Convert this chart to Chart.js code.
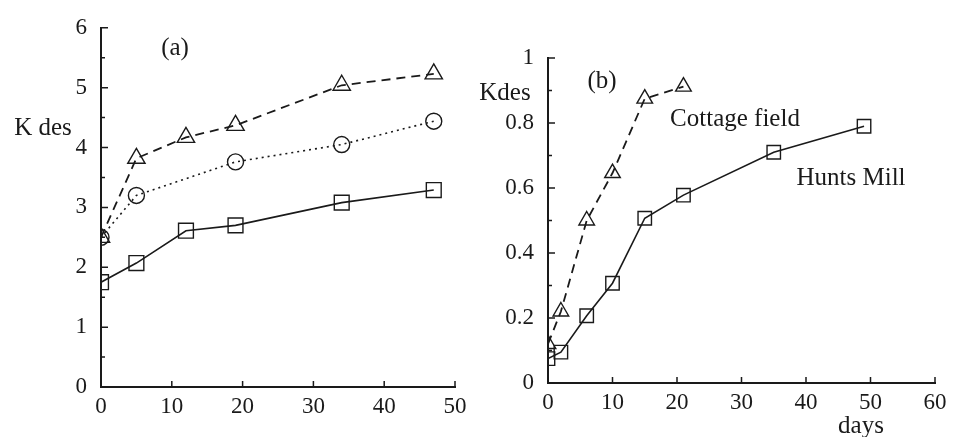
<!DOCTYPE html>
<html>
<head>
<meta charset="utf-8">
<script src="https://cdn.jsdelivr.net/npm/chart.js@4.4.1/dist/chart.umd.min.js"></script>
<style>
  html, body { margin: 0; padding: 0; background: #fff; }
  #wrap { position: relative; width: 955px; height: 437px; overflow: hidden; }
  .panel { position: absolute; top: 0; height: 437px; }
  .note { position: absolute; font-family: "Liberation Serif", "DejaVu Serif", serif; font-size: 25px;
          color: #1a1a1a; white-space: nowrap; transform: translate(-50%, -50%); line-height: 1; }
</style>
</head>
<body>
<div id="wrap">
  <div class="panel" style="left:0;width:480px"><canvas id="chartA"></canvas></div>
  <div class="panel" style="left:480px;width:475px"><canvas id="chartB"></canvas></div>
  <div class="note" style="left:175px;top:46px">(a)</div>
  <div class="note" style="left:43px;top:126px">K des</div>
  <div class="note" style="left:602px;top:79px">(b)</div>
  <div class="note" style="left:505px;top:91px">Kdes</div>
  <div class="note" style="left:735px;top:117px">Cottage field</div>
  <div class="note" style="left:851px;top:176px">Hunts Mill</div>
  <div class="note" style="left:861px;top:424px">days</div>
</div>
<script>
// Panel (a) data
var daysA = [0, 5, 12, 19, 34, 47];
var triA = [2.5, 3.82, 4.17, 4.37, 5.04, 5.23];
var daysCircA = [0, 5, 19, 34, 47];
var circA = [2.5, 3.2, 3.76, 4.05, 4.44];
var sqA = [1.75, 2.07, 2.61, 2.7, 3.08, 3.29];
var ticksA_y = [0, 1, 2, 3, 4, 5, 6];
var ticksA_x = [0, 10, 20, 30, 40, 50];

// Panel (b) data
var daysCottage = [0, 2, 6, 10, 15, 21];
var cottage = [0.12, 0.22, 0.5, 0.646, 0.875, 0.912];
var daysHunts = [0, 2, 6, 10, 15, 21, 35, 49];
var hunts = [0.075, 0.095, 0.207, 0.307, 0.507, 0.578, 0.71, 0.79];
var ticksB_y = [0, 0.2, 0.4, 0.6, 0.8, 1];
var ticksB_x = [0, 10, 20, 30, 40, 50, 60];

var INK = '#1a1a1a';
var tickFont = { family: '"Liberation Serif", serif', size: 23 };

function pts(xs, ys) {
    return xs.map(function(x, i) { return { x: x, y: ys[i] }; });
}

// Inward tick marks (major + minor) drawn from the chart's own scales
var inwardTicks = {
    id: 'inwardTicks',
    afterDraw: function(chart, args, opts) {
        var ctx = chart.ctx;
        var xs = chart.scales.x, ys = chart.scales.y;
        var area = chart.chartArea;
        ctx.save();
        ctx.strokeStyle = INK;
        ctx.lineWidth = 1.5;
        ctx.beginPath();
        xs.ticks.forEach(function(t) {
            var px = xs.getPixelForValue(t.value);
            ctx.moveTo(px, area.bottom);
            ctx.lineTo(px, area.bottom - 6);
        });
        ys.ticks.forEach(function(t) {
            var py = ys.getPixelForValue(t.value);
            ctx.moveTo(area.left, py);
            ctx.lineTo(area.left + 7, py);
        });
        for (var v = ys.min + opts.minorY; v < ys.max; v += opts.minorY * 2) {
            var py2 = ys.getPixelForValue(v);
            ctx.moveTo(area.left, py2);
            ctx.lineTo(area.left + 4, py2);
        }
        ctx.stroke();
        ctx.restore();
    }
};

function makeAxes(xmax, ymax, xticks, yticks, yWidth, xHeight) {
    return {
        x: {
            type: 'linear', min: 0, max: xmax,
            afterBuildTicks: function(s) { s.ticks = xticks.map(function(v) { return { value: v }; }); },
            grid: { display: true, drawOnChartArea: false, drawTicks: false },
            border: { display: true, color: INK, width: 2 },
            ticks: { color: INK, font: tickFont, padding: 6, maxRotation: 0,
                     callback: function(v) { return String(v); } },
            afterFit: function(s) { s.height = xHeight; }
        },
        y: {
            type: 'linear', min: 0, max: ymax,
            afterBuildTicks: function(s) { s.ticks = yticks.map(function(v) { return { value: v }; }); },
            grid: { display: true, drawOnChartArea: false, drawTicks: false },
            border: { display: true, color: INK, width: 2 },
            ticks: { color: INK, font: tickFont, padding: 14,
                     callback: function(v) { return String(v); } },
            afterFit: function(s) { s.width = yWidth; }
        }
    };
}

var baseOpts = {
    responsive: false,
    animation: false,
    plugins: { legend: { display: false }, tooltip: { enabled: false } }
};

var hollow = 'rgba(255,255,255,0)';

// Panel (a)
var cA = document.getElementById('chartA');
cA.width = 480; cA.height = 437;
new Chart(cA, {
    type: 'line',
    data: {
        datasets: [
            { data: pts(daysA, sqA), borderColor: INK, borderWidth: 1.6,
              pointStyle: 'rect', pointRadius: 10.5, pointBorderWidth: 1.4,
              pointBorderColor: INK, pointBackgroundColor: hollow },
            { data: pts(daysA, triA), borderColor: INK, borderWidth: 1.8, borderDash: [9, 6],
              pointStyle: 'triangle', pointRadius: 10, pointBorderWidth: 1.4,
              pointBorderColor: INK, pointBackgroundColor: hollow },
            { data: pts(daysCircA, circA), borderColor: INK, borderWidth: 1.6, borderDash: [2, 4],
              pointStyle: 'circle', pointRadius: 8, pointBorderWidth: 1.4,
              pointBorderColor: INK, pointBackgroundColor: hollow }
        ]
    },
    options: Object.assign({}, baseOpts, {
        layout: { padding: { left: 0, right: 25, top: 21, bottom: 0 } },
        scales: makeAxes(50, 6, ticksA_x, ticksA_y, 101, 50),
        plugins: Object.assign({}, baseOpts.plugins, { inwardTicks: { minorY: 0.5 } })
    }),
    plugins: [inwardTicks]
});

// Panel (b)
var cB = document.getElementById('chartB');
cB.width = 475; cB.height = 437;
new Chart(cB, {
    type: 'line',
    data: {
        datasets: [
            { data: pts(daysHunts, hunts), borderColor: INK, borderWidth: 1.6,
              pointStyle: 'rect', pointRadius: 9.5, pointBorderWidth: 1.4,
              pointBorderColor: INK, pointBackgroundColor: hollow },
            { data: pts(daysCottage, cottage), borderColor: INK, borderWidth: 1.8, borderDash: [9, 6],
              pointStyle: 'triangle', pointRadius: 9, pointBorderWidth: 1.4,
              pointBorderColor: INK, pointBackgroundColor: hollow }
        ]
    },
    options: Object.assign({}, baseOpts, {
        layout: { padding: { left: 0, right: 20, top: 58, bottom: 0 } },
        scales: makeAxes(60, 1, ticksB_x, ticksB_y, 68, 54),
        plugins: Object.assign({}, baseOpts.plugins, { inwardTicks: { minorY: 0.1 } })
    }),
    plugins: [inwardTicks]
});
</script>
</body>
</html>
